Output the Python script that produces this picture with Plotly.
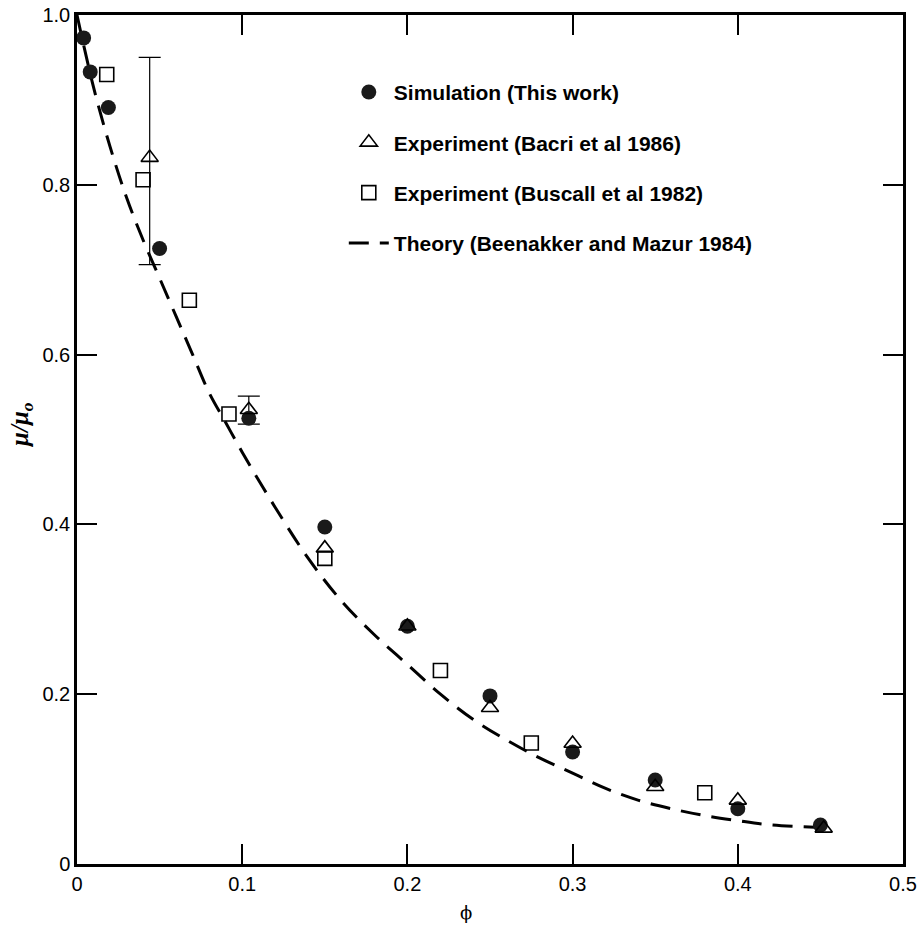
import plotly.graph_objects as go

# Simulation (This work)
sim_phi = [0.004, 0.008, 0.019, 0.050, 0.104, 0.150, 0.200, 0.250, 0.300, 0.350, 0.400, 0.450]
sim_mu = [0.973, 0.933, 0.891, 0.725, 0.525, 0.397, 0.280, 0.198, 0.132, 0.099, 0.065, 0.046]

# Experiment (Bacri et al 1986)
bacri_phi = [0.044, 0.104, 0.150, 0.200, 0.250, 0.300, 0.350, 0.400, 0.452]
bacri_mu = [0.832, 0.535, 0.372, 0.280, 0.184, 0.142, 0.091, 0.075, 0.042]

# Error bars on two Bacri points
err_phi = [0.044, 0.104]
err_mu = [0.832, 0.535]
err_plus = [0.118, 0.016]
err_minus = [0.126, 0.017]

# Experiment (Buscall et al 1982)
busc_phi = [0.018, 0.040, 0.068, 0.092, 0.150, 0.220, 0.275, 0.380]
busc_mu = [0.930, 0.806, 0.664, 0.530, 0.360, 0.228, 0.1425, 0.084]

# Theory (Beenakker and Mazur 1984)
th_phi = [0.0, 0.01, 0.02, 0.03, 0.04, 0.05, 0.06, 0.07, 0.08, 0.09, 0.10, 0.12, 0.14,
          0.16, 0.18, 0.20, 0.22, 0.24, 0.26, 0.28, 0.30, 0.32, 0.34, 0.36, 0.38, 0.40,
          0.42, 0.45]
th_mu = [1.0, 0.915, 0.845, 0.785, 0.735, 0.690, 0.645, 0.600, 0.555, 0.520, 0.485, 0.420,
         0.360, 0.310, 0.270, 0.235, 0.200, 0.170, 0.146, 0.125, 0.107, 0.089, 0.075,
         0.065, 0.057, 0.051, 0.046, 0.043]

x_ticks = [0, 0.1, 0.2, 0.3, 0.4, 0.5]
x_ticklabels = ["0", "0.1", "0.2", "0.3", "0.4", "0.5"]
y_ticks = [0, 0.2, 0.4, 0.6, 0.8, 1.0]
y_ticklabels = ["0", "0.2", "0.4", "0.6", "0.8", "1.0"]

fig = go.Figure()

fig.add_trace(go.Scatter(
    x=th_phi, y=th_mu, mode="lines", name="Theory (Beenakker and Mazur 1984)",
    line=dict(color="black", width=3, dash="20px,11px", shape="spline"),
    legendgroup="d", legendrank=4, cliponaxis=False))

fig.add_trace(go.Scatter(
    x=err_phi, y=err_mu, mode="markers", showlegend=False,
    marker=dict(size=1, color="rgba(0,0,0,0)"),
    error_y=dict(type="data", array=err_plus, arrayminus=err_minus, symmetric=False,
                 color="black", thickness=1.2, width=11),
    cliponaxis=False))

fig.add_trace(go.Scatter(
    x=sim_phi, y=sim_mu, mode="markers", name="Simulation (This work)",
    marker=dict(symbol="circle", size=15, color="#1a1a1a", line=dict(width=0)),
    legendgroup="a", legendrank=1, cliponaxis=False))

fig.add_trace(go.Scatter(
    x=bacri_phi, y=bacri_mu, mode="markers", name="Experiment (Bacri et al 1986)",
    marker=dict(symbol="triangle-up-open", size=15, color="black", line=dict(width=1.6)),
    legendgroup="b", legendrank=2, cliponaxis=False))

fig.add_trace(go.Scatter(
    x=busc_phi, y=busc_mu, mode="markers", name="Experiment (Buscall et al 1982)",
    marker=dict(symbol="square-open", size=14, color="black", line=dict(width=1.6)),
    legendgroup="c", legendrank=3, cliponaxis=False))

axis_common = dict(
    showgrid=False, zeroline=False, showline=True, linecolor="black", linewidth=2.5,
    mirror="ticks", ticks="inside", ticklen=20, tickwidth=1.5, tickcolor="black",
    automargin=False, ticklabeloverflow="allow",
    tickfont=dict(family="Liberation Sans, Arial, sans-serif", size=20, color="black"),
)

fig.update_xaxes(range=[0, 0.5], tickvals=x_ticks, ticktext=x_ticklabels, **axis_common)
fig.update_yaxes(range=[0, 1.0], tickvals=y_ticks, ticktext=y_ticklabels, **axis_common)

fig.add_annotation(
    text="<i>μ/μ<sub>o</sub></i>", xref="paper", yref="paper", x=-0.068, y=0.517,
    xanchor="center", yanchor="middle",
    textangle=-90, showarrow=False,
    font=dict(family="Liberation Serif, serif", size=25, color="black", weight="bold"))
fig.add_annotation(
    text="ϕ", xref="paper", yref="paper", x=0.471, y=-0.057, showarrow=False,
    xanchor="center", yanchor="middle",
    font=dict(family="DejaVu Serif, serif", size=18, color="black"))

fig.update_layout(
    width=917, height=925,
    margin=dict(l=77, r=14, t=15, b=61, autoexpand=False),
    paper_bgcolor="white", plot_bgcolor="white",
    showlegend=True,
    legend=dict(
        x=0.323, y=0.933, xanchor="left", yanchor="top",
        bgcolor="rgba(0,0,0,0)", borderwidth=0,
        font=dict(family="Liberation Sans, Arial, sans-serif", size=21, color="black",
                  weight="bold"),
        tracegroupgap=20, itemwidth=40, traceorder="grouped",
    ),
)

fig.write_html(
    "out.html",
    config={"displayModeBar": False},
    post_script="document.body.style.margin='0';document.body.style.overflow='hidden';",
)
